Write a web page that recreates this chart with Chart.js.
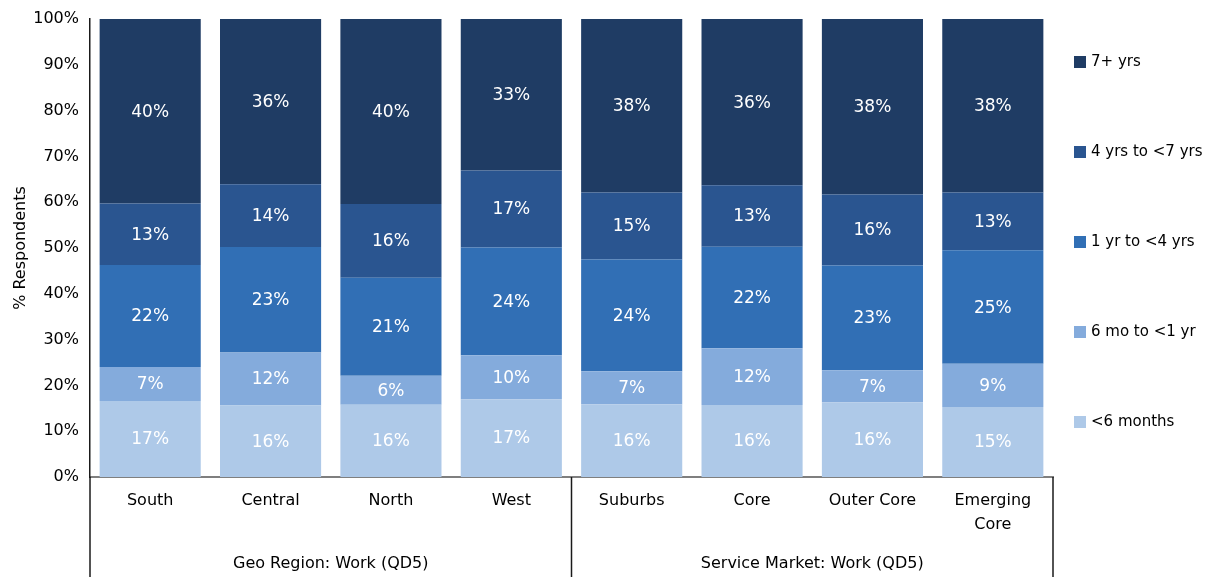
<!DOCTYPE html>
<html>
<head>
<meta charset="utf-8">
<script src="https://cdn.jsdelivr.net/npm/chart.js@4"></script>
<style>
  body { margin: 0; background: #fff; }
  #wrap { width: 1222px; height: 577px; }
</style>
</head>
<body>
<div id="wrap"><canvas id="tenureChart" width="1222" height="577"></canvas></div>
<script>
// categories along the x axis
const categories = ['South', 'Central', 'North', 'West', 'Suburbs', 'Core', 'Outer Core', ['Emerging', 'Core']];
const groups = ['Geo Region: Work (QD5)', 'Service Market: Work (QD5)'];
const yTicks = [0, 10, 20, 30, 40, 50, 60, 70, 80, 90, 100];

// series, bottom of the stack first
const seriesNames = ['<6 months', '6 mo to <1 yr', '1 yr to <4 yrs', '4 yrs to <7 yrs', '7+ yrs'];
const lessThan6mo = [16.6, 15.6, 15.8, 17.0, 15.9, 15.7, 16.3, 15.3];
const sixMoTo1yr = [7.4, 11.6, 6.3, 9.6, 7.2, 12.4, 7.0, 9.4];
const oneTo4yrs = [22.3, 23.0, 21.4, 23.5, 24.4, 22.2, 22.9, 24.8];
const fourTo7yrs = [13.4, 13.7, 16.1, 16.8, 14.6, 13.4, 15.5, 12.6];
const sevenPlus = [40.3, 36.1, 40.4, 33.1, 37.9, 36.3, 38.3, 37.9];

const colors = ['#aec9e8', '#84abdc', '#316fb5', '#2a5590', '#1f3c64'];
const FONT = '"DejaVu Sans", Verdana, sans-serif';

document.addEventListener('DOMContentLoaded', function () {
    const values = [lessThan6mo, sixMoTo1yr, oneTo4yrs, fourTo7yrs, sevenPlus];

    const datasets = values.map(function (v, i) {
        return {
            label: seriesNames[i],
            data: v,
            backgroundColor: colors[i],
            borderWidth: 0,
            barPercentage: 0.84,
            categoryPercentage: 1.0
        };
    });

    // white percentage labels in the middle of each segment
    const segmentLabels = {
        id: 'segmentLabels',
        afterDatasetsDraw(chart) {
            const ctx = chart.ctx;
            ctx.save();
            ctx.fillStyle = '#ffffff';
            ctx.font = '17px ' + FONT;
            ctx.textAlign = 'center';
            ctx.textBaseline = 'middle';
            chart.data.datasets.forEach((ds, i) => {
                chart.getDatasetMeta(i).data.forEach((bar, j) => {
                    const y = (bar.y + bar.base) / 2;
                    ctx.fillText(Math.round(ds.data[j]) + '%', bar.x, y + 1);
                });
            });
            ctx.restore();
        }
    };

    // group separators below the axis and the legend on the right
    const extras = {
        id: 'extras',
        afterDraw(chart) {
            const ctx = chart.ctx;
            const area = chart.chartArea;
            const x = chart.scales.x;
            const bottom = chart.height;
            const mid = (x.getPixelForValue(3) + x.getPixelForValue(4)) / 2;
            ctx.save();
            ctx.strokeStyle = '#1a1a1a';
            ctx.lineWidth = 1.5;
            [area.left, mid, area.right].forEach(px => {
                ctx.beginPath();
                ctx.moveTo(px, area.bottom);
                ctx.lineTo(px, bottom);
                ctx.stroke();
            });

            // legend, top item is the top of the stack
            ctx.font = '15px ' + FONT;
            ctx.textBaseline = 'middle';
            ctx.textAlign = 'left';
            for (let k = 0; k < seriesNames.length; k++) {
                const idx = seriesNames.length - 1 - k;
                const cy = 62 + k * 90;
                ctx.fillStyle = colors[idx];
                ctx.fillRect(area.right + 21, cy - 6, 12, 12);
                ctx.fillStyle = '#000';
                ctx.fillText(seriesNames[idx], area.right + 38, cy);
            }
            ctx.restore();
        }
    };

    new Chart(document.getElementById('tenureChart'), {
        type: 'bar',
        data: { labels: categories, datasets: datasets },
        options: {
            responsive: false,
            animation: false,
            layout: { padding: { top: 18, right: 169, left: 0, bottom: 0 } },
            plugins: {
                legend: { display: false },
                tooltip: { enabled: false }
            },
            scales: {
                x: {
                    stacked: true,
                    grid: { display: false, drawTicks: false },
                    border: { display: true, color: '#7f7f7f', width: 2 },
                    ticks: {
                        color: '#000',
                        font: { family: FONT, size: 16, lineHeight: 1.5 },
                        padding: 12,
                        maxRotation: 0,
                        autoSkip: false
                    },
                    afterFit(scale) { scale.height = 62; }
                },
                x2: {
                    type: 'category',
                    position: 'bottom',
                    labels: groups,
                    offset: true,
                    grid: { display: false, drawTicks: false },
                    border: { display: false },
                    ticks: {
                        color: '#000',
                        font: { family: FONT, size: 16 },
                        padding: 15,
                        maxRotation: 0,
                        autoSkip: false
                    },
                    afterFit(scale) { scale.height = 38; }
                },
                y: {
                    stacked: true,
                    min: 0,
                    max: 100,
                    grid: { display: false, drawTicks: false },
                    border: { display: true, color: '#1a1a1a', width: 1.5 },
                    afterBuildTicks(scale) {
                        scale.ticks = yTicks.map(v => ({ value: v }));
                    },
                    ticks: {
                        color: '#000',
                        font: { family: FONT, size: 16, lineHeight: 1 },
                        padding: 11,
                        callback: v => v + '%'
                    },
                    title: {
                        display: true,
                        text: '% Respondents',
                        color: '#000',
                        font: { family: FONT, size: 16 },
                        padding: { top: 11, bottom: 0 }
                    },
                    afterFit(scale) { scale.width = 90; }
                }
            }
        },
        plugins: [segmentLabels, extras]
    });
});
</script>
</body>
</html>
